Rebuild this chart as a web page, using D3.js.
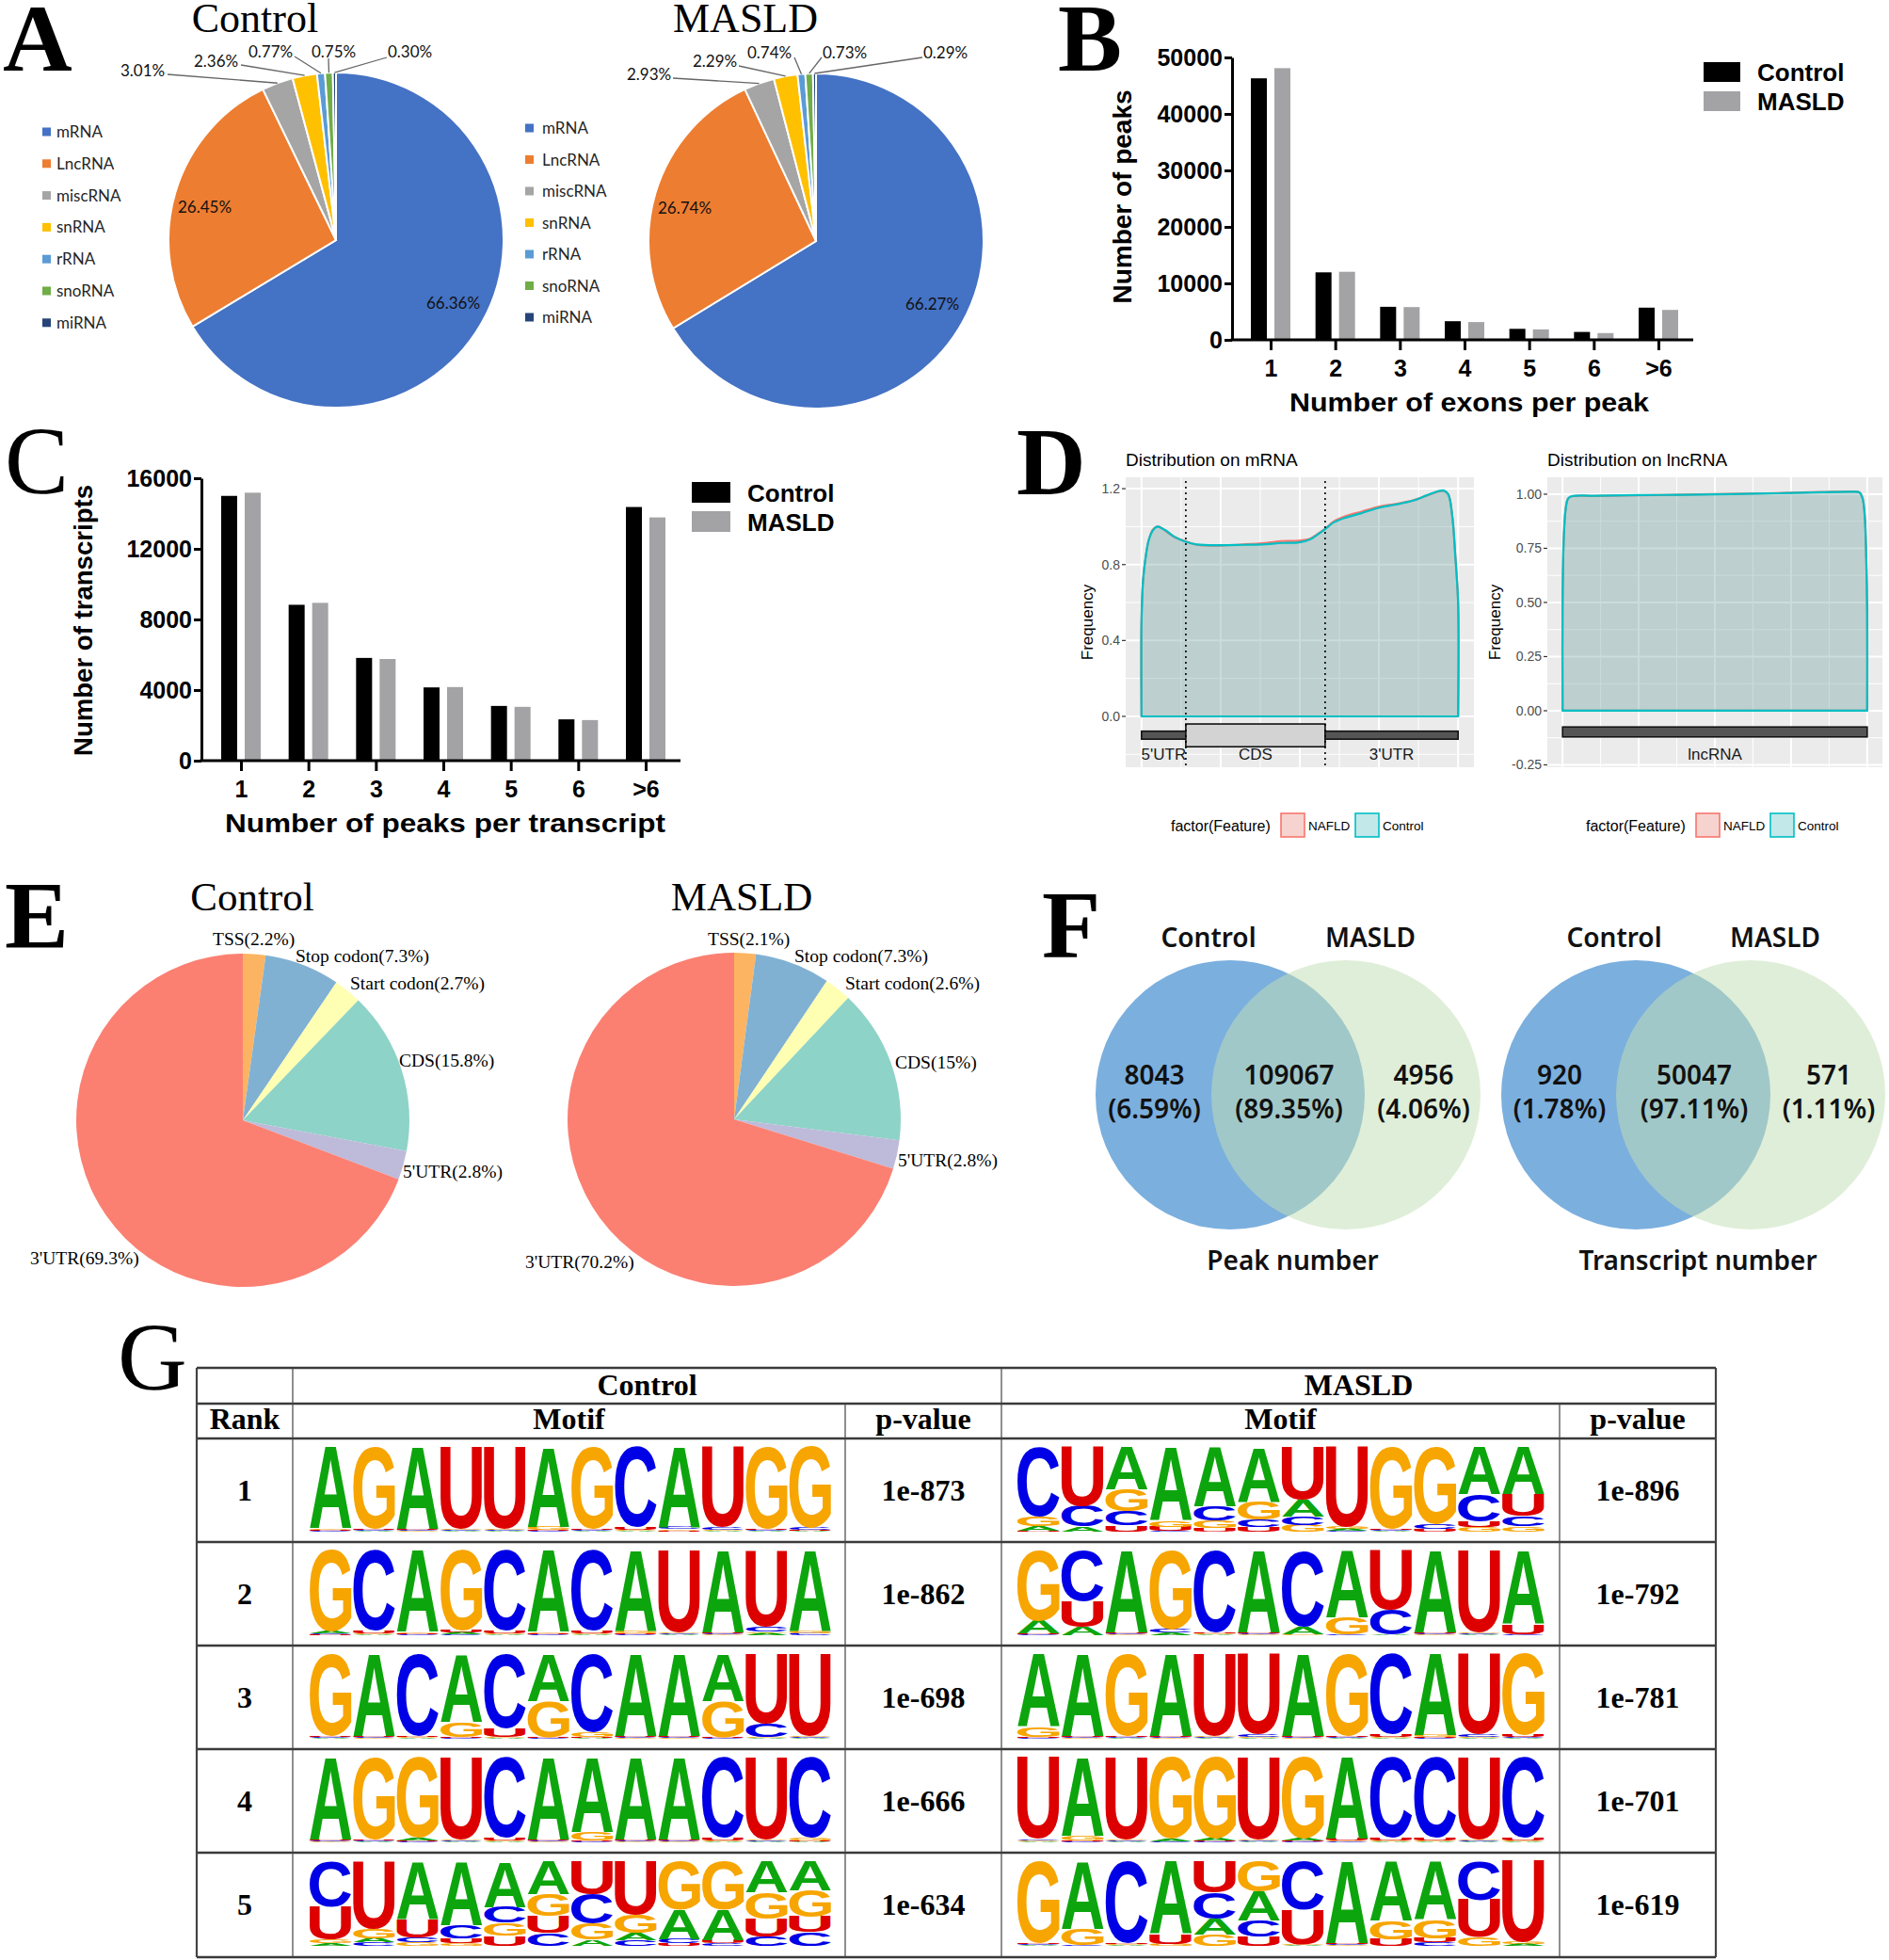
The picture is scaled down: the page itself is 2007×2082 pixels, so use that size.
<!DOCTYPE html>
<html><head><meta charset="utf-8">
<script src="https://cdn.jsdelivr.net/npm/d3@7"></script>
<style>html,body{margin:0;padding:0;background:#fff;}svg{display:block;}</style>
</head><body>
<svg id="fig" width="2007" height="2082" xmlns="http://www.w3.org/2000/svg"></svg>
<script>
// ================= DATA =================
// Panel A
const rnaTypes = ["mRNA","LncRNA","miscRNA","snRNA","rRNA","snoRNA","miRNA"];
const rnaControl = [66.36,26.45,3.01,2.36,0.77,0.75,0.30];
const rnaMASLD = [66.27,26.74,2.93,2.29,0.74,0.73,0.29];
// Panel B
const exonCats = ["1","2","3","4","5","6",">6"];
const exonControl = [46300,11950,5850,3300,1950,1400,5700];
const exonMASLD = [48100,12050,5800,3150,1850,1200,5300];
const exonTicks = [0,10000,20000,30000,40000,50000];
// Panel C
const peakCats = ["1","2","3","4","5","6",">6"];
const peakControl = [15000,8830,5820,4150,3100,2340,14370];
const peakMASLD = [15180,8940,5760,4170,3050,2300,13780];
const peakTicks = [0,4000,8000,12000,16000];
// Panel D
const mrnaX = [0,0,0.005,0.014,0.023,0.036,0.050,0.066,0.077,0.104,0.140,0.176,0.247,0.319,0.391,0.444,0.498,0.534,0.561,0.581,0.606,0.642,0.695,0.749,0.803,0.857,0.901,0.937,0.955,0.969,0.982,0.991,1,1];
const mrnaControl = [0,0.50,0.72,0.85,0.93,0.98,1.00,0.99,0.98,0.947,0.92,0.906,0.902,0.904,0.907,0.914,0.917,0.934,0.964,0.988,1.021,1.046,1.071,1.099,1.116,1.137,1.165,1.187,1.19,1.17,1.05,0.85,0.60,0];
const mrnaNAFLD = [0,0.50,0.72,0.85,0.93,0.985,1.00,0.99,0.975,0.945,0.922,0.904,0.900,0.906,0.914,0.924,0.926,0.938,0.966,0.99,1.026,1.054,1.079,1.105,1.12,1.138,1.163,1.185,1.188,1.17,1.05,0.85,0.60,0];
const mrnaTicks = [0,0.4,0.8,1.2];
const mrnaMinor = [-0.2,0.2,0.6,1.0];
const mrnaFeatures = ["5'UTR","CDS","3'UTR"];
const mrnaBounds = [0,0.14,0.58,1];
const lncX = [0,0,0.004,0.010,0.018,0.030,0.10,0.25,0.40,0.55,0.70,0.85,0.95,0.975,0.985,0.992,0.997,1,1];
const lncControl = [0,0.50,0.80,0.93,0.98,0.991,0.993,0.996,0.997,1.000,1.004,1.009,1.011,1.008,0.98,0.90,0.70,0.45,0];
const lncNAFLD = [0,0.50,0.80,0.93,0.98,0.990,0.992,0.995,0.998,1.001,1.005,1.010,1.012,1.008,0.98,0.90,0.70,0.45,0];
const lncTicks = [-0.25,0,0.25,0.5,0.75,1.0];
const lncMinor = [-0.125,0.125,0.375,0.625,0.875];
const distGroups = ["NAFLD","Control"];
// Panel E
const regionNames = ["TSS","Stop codon","Start codon","CDS","5'UTR","3'UTR"];
const regionControl = [2.2,7.3,2.7,15.8,2.8,69.3];
const regionMASLD = [2.1,7.3,2.6,15,2.8,70.2];
// Panel F
const peakVenn = [8043,109067,4956];
const peakVennPct = [6.59,89.35,4.06];
const txVenn = [920,50047,571];
const txVennPct = [1.78,97.11,1.11];
// Panel G
const motifRanks = [1,2,3,4,5];
const controlPvalues = ["1e-873","1e-862","1e-698","1e-666","1e-634"];
const masldPvalues = ["1e-896","1e-792","1e-781","1e-701","1e-619"];
const controlMotifs = [
 ["A96G2C1U1","G97A1C1U1","A97G1C1U1","U97A1C1G1","U97A1C1G1","A94G4C1U1","G97A1C1U1","C95U3A1G1","A95G2C2U1","U95C3A1G1","G97A1C1U1","G96C2A1U1"],
 ["G96A2U1C1","C95U3A1G1","A96G2C1U1","G95A2U2C1","C95U3A1G1","A96G2C1U1","C95U3A1G1","A95G3C1U1","U97A1C1G1","A97G1C1U1","U90C6A2G2","A95G3C2"],
 ["G97A1C1U1","A97G1C1U1","C97A1G1U1","A80G18C1U1","C88U10A1G1","A55G43C1U1","C92G6A1U1","A97G1C1U1","A97G1C1U1","A55G43C1U1","U82C16A1G1","U97A1C1G1"],
 ["A97G1C1U1","G97A1C1U1","G95A3C1U1","U97A1C1G1","C95U3A1G1","A97G1C1U1","A88G10C1U1","A97G1C1U1","A97G1C1U1","C95U3A1G1","U97A1C1G1","C95G3A1U1"],
 ["C54U39G4A3","U80G11A5C4","A68U22C6G4","A75C16U6G3","A54C19G15U12","A39G26U20C15","U39C35G19A7","U63G22A8C7","G57A35C5U3","G57A36U4C3","A37G31U21C11","A34G32U18C16"]
];
const masldMotifs = [
 ["C82G11A6U1","U70C24A6","A50G26C17U7","A87G7U5C1","A70C17G9U4","A64G22C9U5","U62A20C10G8","U95A2G2C1","G97A1C1U1","G91C6U3","A56C32U7G5","A56U26C12G6"],
 ["G83A15C1U1","C60U30A10","A97G1C1U1","G93C4A3","C97A1G1U1","A97G1C1U1","C90A9G1","A79G20C1","U70C29A1","A97G1C1U1","U97A1C1G1","A87U12C1"],
 ["A86G12C1U1","A97G1C1U1","G97A1C1U1","A97G1C1U1","U97A1C1G1","U95C3A1G1","A97G1C1U1","G97A1C1U1","C95U3A1G1","A96G2C1U1","U95C3A1G1","G96U2A1C1"],
 ["U96C2A1G1","A92G6C1U1","U97A1C1G1","G96A3C1","G96A2C1U1","U97A1C1G1","G96A2C1U1","A96U2C1G1","C95U3A1G1","C95U3A1G1","U97A1C1G1","C95U3A1G1"],
 ["G97A1C1U1","A80G19C1","C97A1G1U1","A86U12G2","U37C31A19G13","G36A34C19U11","C57U41A1G1","A97G1C1U1","A70G22U8","A69G22U5C4","C46U44G10","U96A2G2"]
];

// ================= DRAWING =================
const svg = d3.select('#fig');
const SERIF = "'Liberation Serif','Times New Roman',serif";
const SANS = "'Liberation Sans',Arial,Helvetica,sans-serif";
const OFFICE = "Lato,'Open Sans',sans-serif";
const NOTO = "'Noto Sans','Open Sans',sans-serif";

function text(g,x,y,s,o={}){
  const t=g.append('text').attr('x',x).attr('y',y).text(s)
    .attr('font-family',o.ff||SANS).attr('font-size',o.fs||16)
    .attr('font-weight',o.fw||'normal').attr('fill',o.fill||'#000')
    .attr('text-anchor',o.anchor||'start');
  if(o.tl) t.attr('textLength',o.tl).attr('lengthAdjust','spacingAndGlyphs');
  if(o.rot!=null) t.attr('transform',`rotate(${o.rot},${x},${y})`);
  return t;
}

// panel letters
[["A",3,75,"bold"],["B",1124,75,"bold"],["C",5,524,"normal"],["D",1080,525,"bold"],
 ["E",5,1007,"bold"],["F",1107,1017,"bold"],["G",125,1476,"normal"]].forEach(([l,x,y,w])=>{
  text(svg,x,y,l,{ff:SERIF,fs:102,fw:w});
});

// ---------- Panel A ----------
const rnaColors = d3.scaleOrdinal().domain(rnaTypes)
  .range(["#4472C4","#ED7D31","#A5A5A5","#FFC000","#5B9BD5","#70AD47","#264478"]);
function drawRnaPie(o){
  const g=svg.append('g');
  const R=178;
  const pie=d3.pie().sort(null).value(d=>d.v);
  const arcs=pie(rnaTypes.map((t,i)=>({t,v:o.values[i]})));
  const arc=d3.arc().innerRadius(0).outerRadius(R);
  const pg=g.append('g').attr('transform',`translate(${o.cx},${o.cy})`);
  pg.selectAll('path').data(arcs).join('path').attr('d',arc)
    .attr('fill',d=>rnaColors(d.data.t)).attr('stroke','#fff').attr('stroke-width',2);
  text(g,o.titleX,34,o.title,{ff:SERIF,fs:44,anchor:'middle'});
  arcs.forEach((a,i)=>{
    const L=o.labels[i];
    text(g,L[0],L[1]+6,o.values[i].toFixed(2)+"%",{ff:OFFICE,fs:17,fill:'#111'});
    if(L.length>2){
      const m=(a.startAngle+a.endAngle)/2;
      const px=o.cx+R*Math.sin(m), py=o.cy-R*Math.cos(m);
      g.append('line').attr('x1',L[2]).attr('y1',L[3]).attr('x2',px).attr('y2',py)
        .attr('stroke','#666').attr('stroke-width',1.3);
    }
  });
  rnaTypes.forEach((t,i)=>{
    const yy=o.legY+i*o.legStep;
    g.append('rect').attr('x',o.legX).attr('y',yy-4.5).attr('width',9).attr('height',9).attr('fill',rnaColors(t));
    text(g,o.legX+(o.legTX),yy+6,t,{ff:OFFICE,fs:17,fill:'#262626'});
  });
}
drawRnaPie({cx:357,cy:255,values:rnaControl,title:"Control",titleX:271,legX:45,legTX:15,legY:140,legStep:33.8,
  labels:[[453,322],[189,220],[128,75,178,79],[206,65,256,69],[264,55,313,60],[331,55,349,62],[412,55,411,61]]});
drawRnaPie({cx:867,cy:256,values:rnaMASLD,title:"MASLD",titleX:792,legX:558,legTX:18,legY:136,legStep:33.5,
  labels:[[962,323],[699,221],[666,79,715,83],[736,65,785,70],[794,56,844,61],[874,56,873,61],[981,56,980,61]]});

// ---------- Panels B & C ----------
function drawBars(o){
  const g=svg.append('g');
  const y=d3.scaleLinear().domain([0,o.max]).range([o.y0,o.y1]);
  const x=d3.scalePoint().domain(o.cats).range([o.c0,o.c1]);
  const sub=d3.scaleBand().domain(["Control","MASLD"]).range([-21,21]).paddingInner(0.32);
  const col={Control:"#000000",MASLD:"#A3A3A6"};
  o.cats.forEach((c,i)=>{
    [["Control",o.ctrl[i]],["MASLD",o.masld[i]]].forEach(([k,v])=>{
      g.append('rect').attr('x',x(c)+sub(k)).attr('width',sub.bandwidth())
        .attr('y',y(v)).attr('height',o.y0-y(v)).attr('fill',col[k]);
    });
  });
  const ya=g.append('g').attr('transform',`translate(${o.ax},0)`)
    .call(d3.axisLeft(y).tickValues(o.ticks).tickSize(8).tickSizeOuter(0).tickPadding(2).tickFormat(d3.format('d')));
  ya.select('.domain').attr('stroke-width',3).attr('stroke','#000');
  ya.selectAll('.tick line').attr('stroke-width',3).attr('stroke','#000');
  ya.selectAll('.tick text').attr('font-family',SANS).attr('font-weight','bold').attr('font-size',25).attr('fill','#000');
  g.append('line').attr('x1',o.ax-1.5).attr('x2',o.axEnd).attr('y1',o.y0).attr('y2',o.y0).attr('stroke','#000').attr('stroke-width',3);
  const xa=g.append('g').attr('transform',`translate(0,${o.y0})`)
    .call(d3.axisBottom(x).tickSize(11).tickSizeOuter(0).tickPadding(10));
  xa.select('.domain').remove();
  xa.selectAll('.tick line').attr('stroke-width',3).attr('stroke','#000');
  xa.selectAll('.tick text').attr('font-family',SANS).attr('font-weight','bold').attr('font-size',25).attr('fill','#000');
  text(g,o.ylabX,o.ylabY,o.ylab,{fs:28,fw:'bold',anchor:'middle',rot:-90,tl:o.ylabL});
  text(g,o.xlabX,o.xlabY,o.xlab,{fs:28,fw:'bold',anchor:'middle',tl:o.xlabL});
  ["Control","MASLD"].forEach((k,i)=>{
    g.append('rect').attr('x',o.legX).attr('y',o.legY+i*o.legStep).attr('width',o.legW).attr('height',o.legH).attr('fill',col[k]);
    text(g,o.legX+o.legW+18,o.legY+i*o.legStep+o.legH-1,k,{fs:26,fw:'bold'});
  });
}
drawBars({cats:exonCats,ctrl:exonControl,masld:exonMASLD,ticks:exonTicks,max:50000,y0:361,y1:61,
  c0:1350,c1:1762,ax:1309,axEnd:1799,ylab:"Number of peaks",ylabX:1202,ylabY:209,ylabL:227,
  xlab:"Number of exons per peak",xlabX:1561,xlabY:437,xlabL:382,legX:1810,legY:66,legStep:31,legW:39,legH:21});
drawBars({cats:peakCats,ctrl:peakControl,masld:peakMASLD,ticks:peakTicks,max:16000,y0:808,y1:508,
  c0:256,c1:686,ax:214,axEnd:723,ylab:"Number of transcripts",ylabX:98,ylabY:659,ylabL:288,
  xlab:"Number of peaks per transcript",xlabX:473,xlabY:884,xlabL:468,legX:735,legY:512,legStep:31,legW:41,legH:22});

// ---------- Panel D ----------
const distColors = d3.scaleOrdinal().domain(distGroups).range(["#F8766D","#00BFC4"]);
function drawDist(o){
  const g=svg.append('g');
  const x=d3.scaleLinear().domain([-0.05,1.05]).range([o.left,o.right]);
  const y=d3.scaleLinear().domain(o.yDom).range([o.bottom,o.top]);
  g.append('rect').attr('x',o.left).attr('y',o.top).attr('width',o.right-o.left).attr('height',o.bottom-o.top).attr('fill','#EBEBEB');
  const hl=(v,w)=>g.append('line').attr('x1',o.left).attr('x2',o.right).attr('y1',y(v)).attr('y2',y(v)).attr('stroke','#fff').attr('stroke-width',w);
  const vl=(v,w)=>g.append('line').attr('y1',o.top).attr('y2',o.bottom).attr('x1',x(v)).attr('x2',x(v)).attr('stroke','#fff').attr('stroke-width',w);
  o.minor.forEach(v=>hl(v,1));
  [0.125,0.375,0.625,0.875].forEach(v=>vl(v,1));
  o.ticks.forEach(v=>hl(v,2));
  [0,0.25,0.5,0.75,1].forEach(v=>vl(v,2));
  const line=d3.line().x((d,i)=>x(o.xs[i])).y(d=>y(d)).curve(d3.curveCatmullRom.alpha(0.5));
  [["NAFLD",o.nafld],["Control",o.ctrl]].forEach(([k,vals])=>{
    g.append('path').attr('d',line(vals)+'Z').attr('fill',distColors(k)).attr('fill-opacity',0.2)
      .attr('stroke',distColors(k)).attr('stroke-width',2.2).attr('stroke-linejoin','round');
  });
  o.features.forEach((f,i)=>{
    const thick=(f==="CDS");
    const y0=thick?-0.04:o.thin[0], y1=thick?-0.16:o.thin[1];
    g.append('rect').attr('x',x(o.bounds[i])).attr('width',x(o.bounds[i+1])-x(o.bounds[i]))
      .attr('y',y(y0)).attr('height',y(y1)-y(y0))
      .attr('fill',thick?'#D3D3D3':'#555555').attr('stroke','#111').attr('stroke-width',1.6);
    text(g,x((o.bounds[i]+o.bounds[i+1])/2),y(-0.2)+6,f,{fs:17,anchor:'middle',fill:'#1a1a1a'});
  });
  o.bounds.slice(1,-1).forEach(b=>{
    g.append('line').attr('x1',x(b)).attr('x2',x(b)).attr('y1',o.top+4).attr('y2',o.bottom)
      .attr('stroke','#000').attr('stroke-width',1.6).attr('stroke-dasharray','2,4');
  });
  o.ticks.forEach(v=>{
    g.append('line').attr('x1',o.left-4).attr('x2',o.left).attr('y1',y(v)).attr('y2',y(v)).attr('stroke','#333').attr('stroke-width',1.2);
    text(g,o.left-6,y(v)+5,v.toFixed(o.dec),{fs:14,anchor:'end',fill:'#4D4D4D'});
  });
  text(g,o.left,495,o.title,{fs:19});
  text(g,o.ylabX,(o.top+o.bottom)/2,"Frequency",{fs:17,anchor:'middle',rot:-90});
  const L=o.legX;
  text(g,L,883,"factor(Feature)",{fs:16});
  distGroups.forEach((k,i)=>{
    const bx=L+117+i*79;
    g.append('rect').attr('x',bx).attr('y',864).attr('width',25).attr('height',25)
      .attr('fill',k==="NAFLD"?'#F7D3D0':'#C2E8E9').attr('stroke',distColors(k)).attr('stroke-width',1.6);
    text(g,bx+29,882,k,{fs:13.5});
  });
}
drawDist({left:1196,right:1566,top:507,bottom:815,yDom:[-0.268,1.26],ticks:mrnaTicks,minor:mrnaMinor,dec:1,
  xs:mrnaX,ctrl:mrnaControl,nafld:mrnaNAFLD,features:mrnaFeatures,bounds:mrnaBounds,thin:[-0.078,-0.12],
  title:"Distribution on mRNA",ylabX:1161,legX:1244});
drawDist({left:1644,right:2000,top:507,bottom:815,yDom:[-0.261,1.078],ticks:lncTicks,minor:lncMinor,dec:2,
  xs:lncX,ctrl:lncControl,nafld:lncNAFLD,features:["lncRNA"],bounds:[0,1],thin:[-0.075,-0.121],
  title:"Distribution on lncRNA",ylabX:1594,legX:1685});

// ---------- Panel E ----------
const regionColors = d3.scaleOrdinal().domain(regionNames)
  .range(["#FDB462","#80B1D3","#FFFFB3","#8DD3C7","#BEBADA","#FB8072"]);
function drawRegionPie(o){
  const g=svg.append('g');
  const pie=d3.pie().sort(null).value(d=>d.v);
  const arcs=pie(regionNames.map((n,i)=>({n,v:o.values[i]})));
  const arc=d3.arc().innerRadius(0).outerRadius(177);
  g.append('g').attr('transform',`translate(${o.cx},${o.cy})`).selectAll('path').data(arcs).join('path')
    .attr('d',arc).attr('fill',d=>regionColors(d.data.n));
  text(g,o.titleX,967,o.title,{ff:SERIF,fs:43,anchor:'middle'});
  regionNames.forEach((n,i)=>{
    text(g,o.labels[i][0],o.labels[i][1],`${n}(${o.values[i]}%)`,{ff:SERIF,fs:19.5});
  });
}
drawRegionPie({cx:258,cy:1190,values:regionControl,title:"Control",titleX:268,
  labels:[[226,1004],[314,1022],[372,1051],[424,1133],[428,1251],[32,1343]]});
drawRegionPie({cx:780,cy:1189,values:regionMASLD,title:"MASLD",titleX:788,
  labels:[[752,1004],[844,1022],[898,1051],[951,1135],[954,1239],[558,1347]]});

// ---------- Panel F ----------
function drawVenn(o){
  const g=svg.append('g');
  const r=143, cy=1163;
  const tf={ff:NOTO,fs:28,fw:600,anchor:'middle',fill:'#111'};
  g.append('circle').attr('cx',o.c1).attr('cy',cy).attr('r',r).attr('fill','#7BAFDE');
  g.append('circle').attr('cx',o.c2).attr('cy',cy).attr('r',r).attr('fill','#C3DFB5').attr('fill-opacity',0.53);
  const xs=[((o.c1-r)+(o.c2-r))/2,((o.c2-r)+(o.c1+r))/2,((o.c1+r)+(o.c2+r))/2];
  o.values.forEach((v,i)=>{
    text(g,xs[i]+1,1152,String(v),tf);
    text(g,xs[i]+1,1188,`(${o.pct[i].toFixed(2)}%)`,tf);
  });
  text(g,o.c1-23,1006,"Control",tf);
  text(g,o.c2+26,1006,"MASLD",tf);
  text(g,(o.c1+o.c2)/2+5,1349,o.label,tf);
}
drawVenn({c1:1307,c2:1430,values:peakVenn,pct:peakVennPct,label:"Peak number"});
drawVenn({c1:1738,c2:1860,values:txVenn,pct:txVennPct,label:"Transcript number"});

// ---------- Panel G ----------
const letterColors = {A:"#0DA50D",C:"#0000E6",G:"#F7A500",U:"#DD0000"};
const cctx=document.createElement('canvas').getContext('2d');
cctx.font="bold 100px 'Liberation Sans'";
const gm={};
["A","C","G","U"].forEach(l=>{const m=cctx.measureText(l);
  gm[l]={L:m.actualBoundingBoxLeft,R:m.actualBoundingBoxRight,A:m.actualBoundingBoxAscent,D:m.actualBoundingBoxDescent};});
const parseCol=s=>s.match(/[ACGU]\d+/g).map(t=>({l:t[0],f:+t.slice(1)}));
function drawLogo(g,cols,x0,x1,top,H){
  const cw=(x1-x0)/cols.length;
  cols.forEach((c,i)=>{
    const items=parseCol(c).sort((a,b)=>a.f-b.f);
    const tot=d3.sum(items,d=>d.f);
    let yb=top+H;
    items.forEach(it=>{
      const h=it.f/tot*H;
      const bx=x0+i*cw+1, bw=cw-2, by=yb-h;
      const m=gm[it.l];
      const sx=bw/(m.L+m.R), sy=h/(m.A+m.D);
      g.append('text').text(it.l).attr('font-family',SANS).attr('font-weight','bold').attr('font-size',100)
        .attr('fill',letterColors[it.l])
        .attr('transform',`translate(${bx+m.L*sx},${by+m.A*sy}) scale(${sx},${sy})`);
      yb-=h;
    });
  });
}
(function(){
  const g=svg.append('g');
  const xs=[209,311,898,1064,1657,1823];
  const ys=[1453,1491,1528,1638,1748,1858,1968,2079];
  const tf={ff:SERIF,fs:32,fw:'bold',anchor:'middle'};
  motifRanks.forEach((rk,i)=>{
    const top=ys[2+i], cy=top+55;
    drawLogo(g,controlMotifs[i],328,884,top+9,90);
    drawLogo(g,masldMotifs[i],1080,1642,top+9,90);
    text(g,260,cy+11,String(rk),tf);
    text(g,981,cy+11,controlPvalues[i],tf);
    text(g,1740,cy+11,masldPvalues[i],tf);
  });
  ys.forEach(yv=>g.append('line').attr('x1',xs[0]).attr('x2',xs[5]).attr('y1',yv).attr('y2',yv).attr('stroke','#3a3a3a').attr('stroke-width',2.6));
  [[xs[0],ys[0],2.2],[xs[1],ys[0],1.2],[xs[2],ys[1],1.2],[xs[3],ys[0],1.2],[xs[4],ys[1],1.2],[xs[5],ys[0],2.2]].forEach(([xv,y0,w])=>{
    g.append('line').attr('x1',xv).attr('x2',xv).attr('y1',y0).attr('y2',ys[7]).attr('stroke','#444').attr('stroke-width',w);
  });
  text(g,(xs[1]+xs[3])/2,1482,"Control",tf);
  text(g,(xs[3]+xs[5])/2,1482,"MASLD",tf);
  text(g,(xs[0]+xs[1])/2,1518,"Rank",tf);
  text(g,(xs[1]+xs[2])/2,1518,"Motif",tf);
  text(g,(xs[2]+xs[3])/2,1518,"p-value",tf);
  text(g,(xs[3]+xs[4])/2,1518,"Motif",tf);
  text(g,(xs[4]+xs[5])/2,1518,"p-value",tf);
})();
</script>
</body></html>
